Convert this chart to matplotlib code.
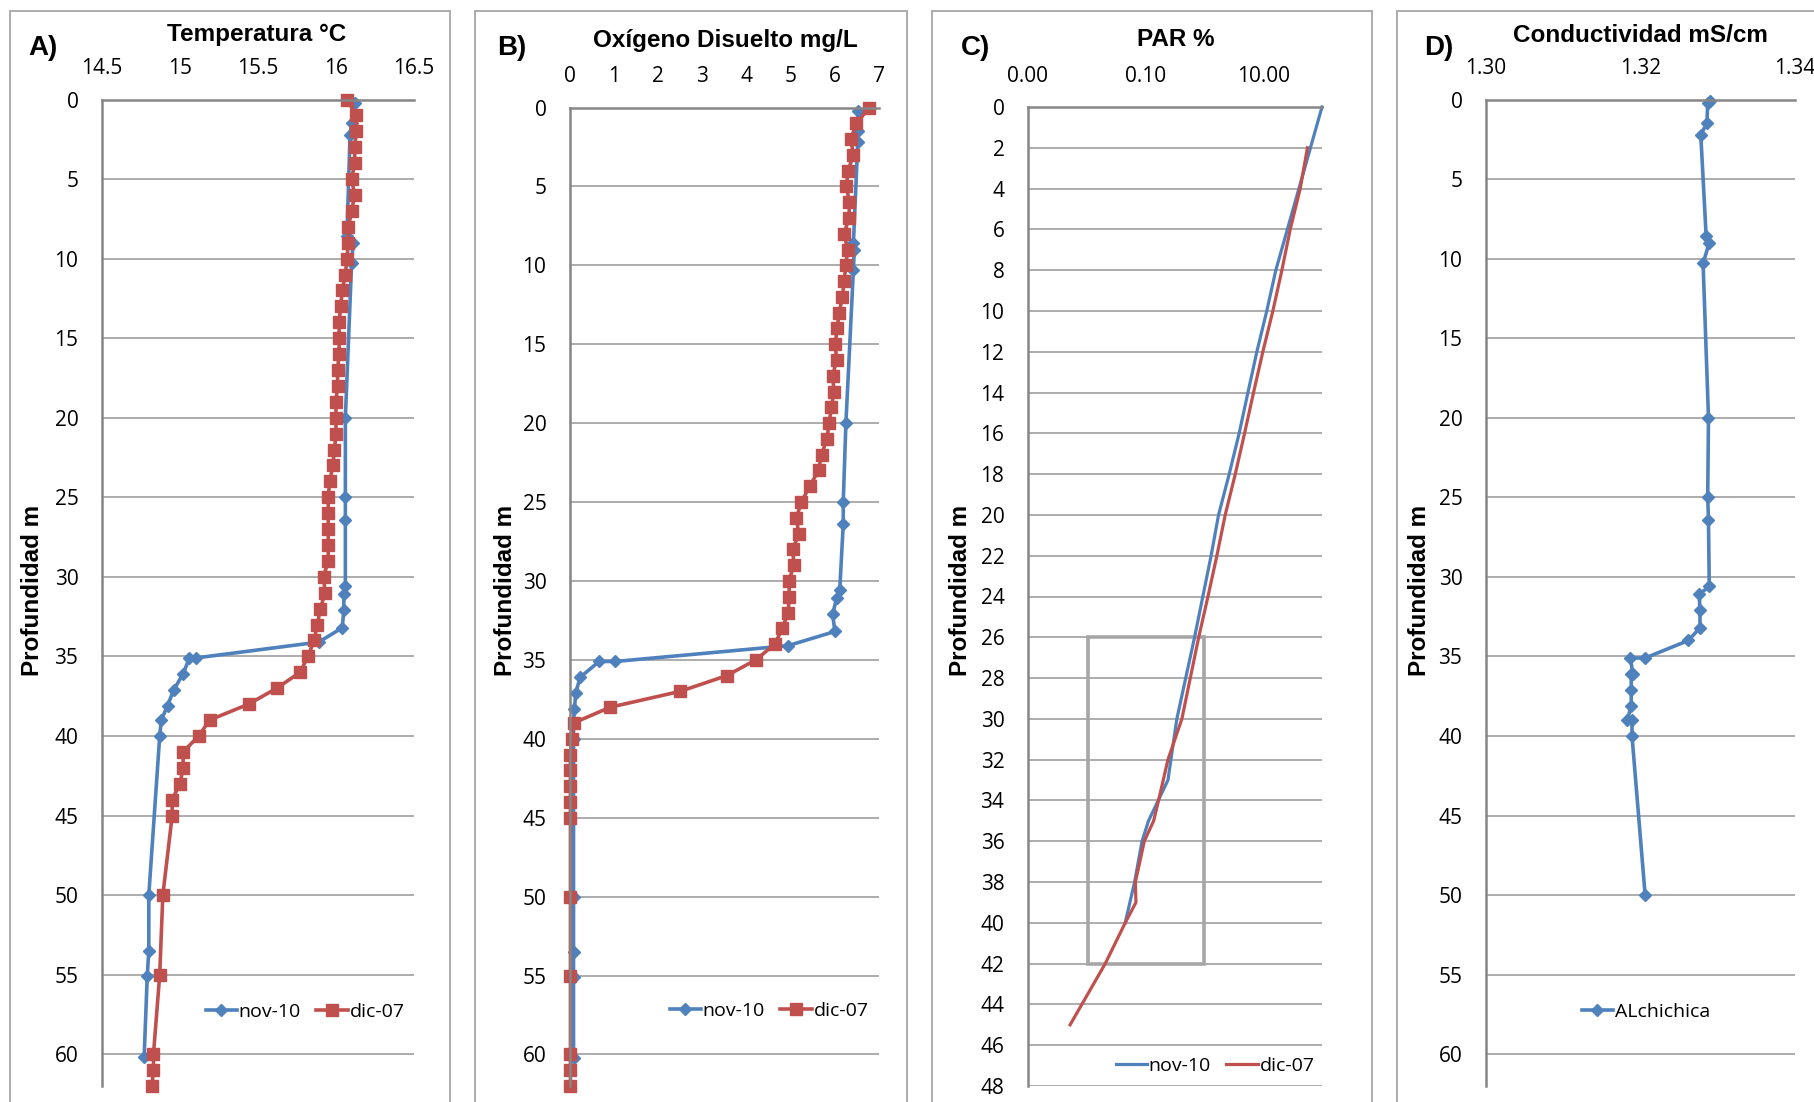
import matplotlib
matplotlib.use('Agg')
import matplotlib.pyplot as plt
from matplotlib.patches import Rectangle
from matplotlib.ticker import NullLocator

# --- A) temperature profiles ---
depth_nov = [0.2, 1.5, 2.2, 8.6, 9.0, 10.3, 20.0, 25.0, 26.4, 30.6, 31.1, 32.1, 33.2,
             34.1, 35.1, 35.1, 36.1, 37.1, 38.1, 39.0, 40.0, 50.0, 53.5, 55.1, 60.2]
temp_nov = [16.12, 16.10, 16.09, 16.07, 16.11, 16.10, 16.06, 16.06, 16.06, 16.06, 16.05, 16.05, 16.04,
            15.89, 15.10, 15.06, 15.02, 14.96, 14.92, 14.88, 14.87, 14.80, 14.80, 14.79, 14.77]

depth_dic = list(range(0, 46)) + [50, 55, 60, 61, 62]
temp_dic = [16.07, 16.13, 16.13, 16.12, 16.12, 16.10, 16.12, 16.10, 16.08, 16.08,
            16.07, 16.06, 16.04, 16.03, 16.02, 16.02, 16.02, 16.01, 16.01, 16.00,
            16.00, 16.00, 15.99, 15.98, 15.96, 15.95, 15.95, 15.95, 15.95, 15.95,
            15.92, 15.93, 15.90, 15.88, 15.86, 15.82, 15.77, 15.62, 15.44, 15.19,
            15.12, 15.02, 15.02, 15.00, 14.95, 14.95, 14.89, 14.87, 14.83, 14.83, 14.82]

# --- B) dissolved oxygen ---
do_nov = [6.52, 6.53, 6.52, 6.42, 6.44, 6.42, 6.25, 6.19, 6.19, 6.11, 6.04, 5.95, 6.00,
          4.94, 1.03, 0.66, 0.23, 0.13, 0.10, 0.08, 0.08, 0.08, 0.08, 0.08, 0.08]
do_dic = [6.78, 6.49, 6.36, 6.42, 6.30, 6.26, 6.33, 6.32, 6.21, 6.29,
          6.25, 6.21, 6.17, 6.10, 6.05, 6.01, 6.04, 5.95, 5.98, 5.92,
          5.87, 5.82, 5.70, 5.63, 5.43, 5.24, 5.13, 5.18, 5.05, 5.07,
          4.96, 4.97, 4.94, 4.81, 4.64, 4.21, 3.55, 2.49, 0.91, 0.08,
          0.04, 0.01, 0.01, 0.01, 0.01, 0.01, 0.01, 0.01, 0.01, 0.01, 0.01]

# --- C) PAR (% of surface) ---
par_depth_nov = [0, 8, 10, 12, 14, 16, 18, 20, 22, 26, 30, 33, 35, 36, 38, 40]
par_nov = [100, 16.4, 11.5, 7.8, 5.5, 3.9, 2.64, 1.74, 1.3, 0.68, 0.34, 0.24, 0.112, 0.087, 0.065, 0.045]
par_depth_dic = [2, 4, 6, 8, 10, 12, 14, 16, 18, 20, 22, 24, 26, 28, 30, 32, 34, 35, 36, 38, 39, 40, 42, 45]
par_dic = [56.6, 42.6, 28.8, 20.8, 14.6, 9.86, 6.85, 4.82, 3.35, 2.26, 1.63, 1.15, 0.80, 0.575,
           0.414, 0.24, 0.166, 0.137, 0.095, 0.067, 0.0685, 0.045, 0.0206, 0.0052]
# highlighted zone in the PAR panel
box_par = (0.0105, 1.0)
box_depth = (26, 42)

# --- D) conductivity ---
cond_depth = [0.1, 0.2, 1.5, 2.2, 8.6, 9.0, 10.3, 20.0, 25.0, 26.4, 30.6, 31.1, 32.1, 33.2,
              34.0, 35.1, 35.1, 36.1, 36.1, 37.1, 38.1, 39.0, 39.0, 40.0, 50.0]
cond = [1.3290, 1.3287, 1.3286, 1.3278, 1.3285, 1.3289, 1.3281, 1.3288, 1.3287, 1.3288, 1.3289, 1.3276,
        1.3277, 1.3277, 1.3262, 1.3206, 1.3187, 1.3190, 1.3188, 1.3188, 1.3188, 1.3183, 1.3189, 1.3189, 1.3206]

BLUE = '#4F81BD'
RED = '#C0504D'
W, H = 1814, 1102

plt.rcParams['font.family'] = ['Open Sans', 'DejaVu Sans']
BOLD = ['Liberation Sans Narrow', 'Liberation Sans', 'DejaVu Sans']

fig = plt.figure(figsize=(W / 100, H / 100), dpi=100)


def px_axes(left, right, top, bottom):
    return fig.add_axes([left / W, 1 - bottom / H, (right - left) / W, (bottom - top) / H])


def style(ax, ymax, ystep):
    ax.xaxis.tick_top()
    ax.set_ylim(ymax, 0)
    ax.set_yticks(range(0, ymax + 1, ystep))
    ax.tick_params(length=0, labelsize=15, colors='#000000')
    ax.tick_params(axis='x', pad=14.5)
    ax.tick_params(axis='y', pad=17)
    ax.grid(axis='y', color='#A6A6A6', lw=1.3)
    ax.grid(axis='x', visible=False)
    ax.set_axisbelow(True)
    for s in ('right', 'bottom'):
        ax.spines[s].set_visible(False)
    for s in ('left', 'top'):
        ax.spines[s].set_color('#868686')
        ax.spines[s].set_linewidth(1.8)


def panel_text(xc, letter, lx, title, tx, ty, ylab_x):
    fig.text(lx / W, 1 - 48 / H, letter, ha='center', va='center', fontsize=20,
             fontweight='bold', family=['Liberation Sans', 'DejaVu Sans'])
    fig.text(tx / W, 1 - ty / H, title, ha='center', va='center', fontsize=17.5,
             fontweight='bold', family=BOLD)
    fig.text(ylab_x / W, 1 - 590 / H, 'Profundidad m', ha='center', va='center', rotation=90,
             fontsize=17.5, fontweight='bold', family=BOLD)
    fig.add_artist(Rectangle((xc[0] / W, -0.05), (xc[1] - xc[0]) / W, 1.05 - 10.7 / H,
                             transform=fig.transFigure, fill=False, ec='#A6A6A6', lw=1.3))


def add_legend(ax, cx, cy):
    ax.legend(loc='center', bbox_to_anchor=(cx / W, 1 - cy / H), bbox_transform=fig.transFigure,
              ncol=2, frameon=False, fontsize=14, handlelength=1.6, handletextpad=0.1,
              columnspacing=0.8, borderpad=0, numpoints=1)


line_kw = dict(lw=2.6, clip_on=False)

# A
axA = px_axes(102, 414, 99.5, 1086)
axA.plot(temp_nov, depth_nov, color=BLUE, marker='D', ms=6.3, label='nov-10', **line_kw)
axA.plot(temp_dic, depth_dic, color=RED, marker='s', ms=8.5, label='dic-07', **line_kw)
axA.set_xlim(14.5, 16.5)
axA.set_xticks([14.5, 15, 15.5, 16, 16.5])
axA.set_xticklabels(['14.5', '15', '15.5', '16', '16.5'])
style(axA, 62, 5)
add_legend(axA, 305, 1012)
panel_text((10, 450), 'A)', 43, 'Temperatura °C', 257, 35, 33)

# B
axB = px_axes(570, 879, 107.5, 1086)
axB.plot(do_nov, depth_nov, color=BLUE, marker='D', ms=6.3, label='nov-10', **line_kw)
axB.plot(do_dic, depth_dic, color=RED, marker='s', ms=8.5, label='dic-07', **line_kw)
axB.set_xlim(0, 7)
axB.set_xticks(range(0, 8))
style(axB, 62, 5)
add_legend(axB, 769, 1011)
panel_text((475, 906.7), 'B)', 512, 'Oxígeno Disuelto mg/L', 725, 41, 505)

# C
axC = px_axes(1028, 1322, 107, 1086)
axC.plot(par_nov, par_depth_nov, color=BLUE, lw=2.3, label='nov-10', clip_on=False)
axC.plot(par_dic, par_depth_dic, color=RED, lw=2.3, label='dic-07', clip_on=False)
axC.set_xscale('log')
axC.set_xlim(0.001, 100)
axC.set_xticks([0.001, 0.1, 10])
axC.set_xticklabels(['0.00', '0.10', '10.00'])
axC.xaxis.set_minor_locator(NullLocator())
style(axC, 48, 2)
axC.add_patch(Rectangle((box_par[0], box_depth[0]), box_par[1] - box_par[0], box_depth[1] - box_depth[0],
                        fill=False, ec='#A6A6A6', lw=2.6, zorder=1.5))
add_legend(axC, 1215, 1066)
panel_text((931.7, 1371.7), 'C)', 975, 'PAR %', 1176, 40, 960)

# D
axD = px_axes(1486, 1795, 99.5, 1086)
axD.plot(cond, cond_depth, color=BLUE, marker='D', ms=6.3, label='ALchichica', **line_kw)
axD.set_xlim(1.30, 1.34)
axD.set_xticks([1.30, 1.32, 1.34])
axD.set_xticklabels(['1.30', '1.32', '1.34'])
style(axD, 62, 5)
add_legend(axD, 1646, 1012)
panel_text((1397, 1850), 'D)', 1439, 'Conductividad mS/cm', 1640, 35, 1420)

fig.savefig('out.png', dpi=100)
